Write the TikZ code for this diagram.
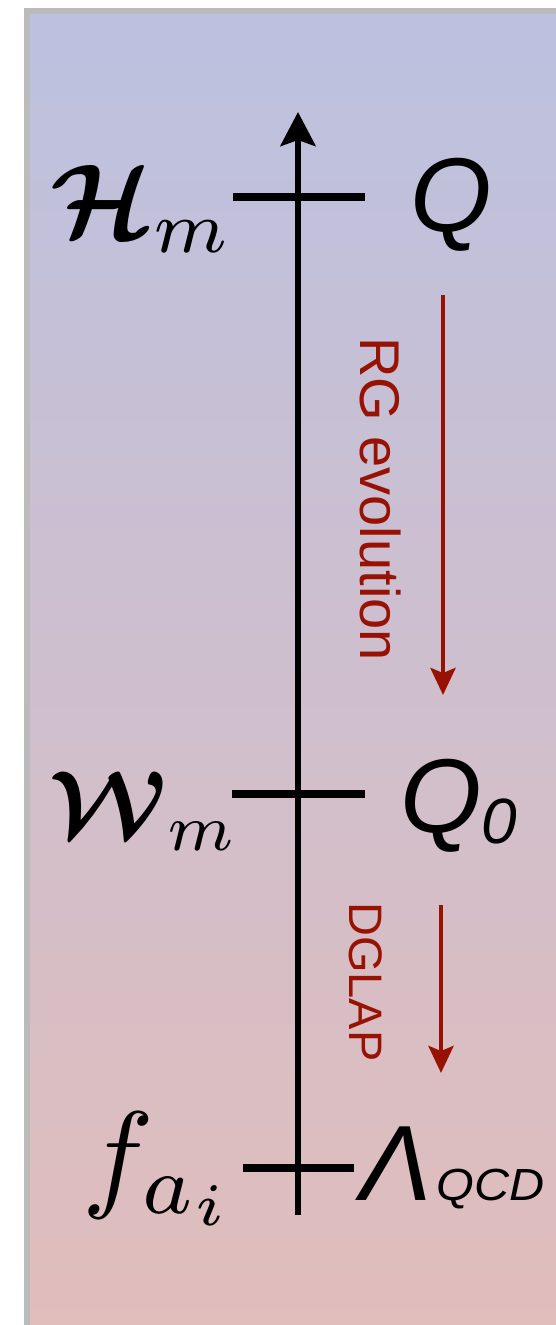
\documentclass[tikz,border=0pt]{standalone}
\usepackage{amsmath,bm}
\usepackage{fontspec}
\newfontfamily\arialf{Liberation Sans}
\usetikzlibrary{arrows.meta}
\definecolor{topc}{RGB}{188,193,224}
\definecolor{botc}{RGB}{225,189,187}
\definecolor{framec}{RGB}{187,187,187}
\definecolor{rgred}{RGB}{152,18,4}
\tikzset{
  axisline/.style={line width=6.5pt, -{Stealth[length=34pt,width=35pt,inset=6pt]}},
  tickline/.style={line width=7.5pt},
  flowarrow/.style={rgred, line width=4.5pt, -{Stealth[length=27pt,width=25pt,inset=5pt]}},
  flowtext/.style={rgred, rotate=-90, anchor=base west, inner sep=0pt, font=\arialf},
  mathlabel/.style={anchor=base west, inner sep=0pt},
}
\begin{document}
\begin{tikzpicture}[x=1pt,y=-1pt]
\useasboundingbox (0,0) rectangle (556,1325);
\fill[framec] (24,8) rectangle (556,1325);
\shade[top color=topc, bottom color=botc] (30,14) rectangle (556,1325);
% axis
\coordinate (axb) at (298,1215);
\coordinate (axt) at (298,112);
\draw[axisline] (axb) -- (axt);
% ticks
\coordinate (t1l) at (233,197); \coordinate (t1r) at (365,197);
\coordinate (t2l) at (232,794); \coordinate (t2r) at (365,794);
\coordinate (t3l) at (243,1168); \coordinate (t3r) at (354,1168);
\draw[tickline] (t1l) -- (t1r);
\draw[tickline] (t2l) -- (t2r);
\draw[tickline] (t3l) -- (t3r);
% left labels
\node[mathlabel, scale=10.5] (H) at (48,237) {$\boldsymbol{\mathcal H}_m$};
\node[mathlabel, scale=9.4] (W) at (48,836) {$\boldsymbol{\mathcal W}_m$};
\node[mathlabel, scale=12] (f) at (80,1195) {$f_{a_i}$};
% right labels
\node[mathlabel] (Q) at (410,231) {\fontsize{105}{105}\selectfont\arialf\itshape Q};
\node[mathlabel] (Q0) at (400,832) {\fontsize{105}{105}\selectfont\arialf\itshape Q\raisebox{-11pt}{\fontsize{64}{64}\selectfont 0}};
\node[mathlabel] (L) at (360,1200) {\fontsize{107}{107}\selectfont\arialf\itshape Λ\hspace{5pt}\scalebox{1.08}[1]{\fontsize{45}{45}\selectfont QCD}};
% flows
\coordinate (a1s) at (443,295); \coordinate (a1e) at (443,695);
\coordinate (a2s) at (441,905); \coordinate (a2e) at (441,1073);
\draw[flowarrow] (a1s) -- (a1e);
\draw[flowarrow] (a2s) -- (a2e);
\node[flowtext] (rg) at (360,337) {\fontsize{56}{56}\selectfont RG evolution};
\node[flowtext] (dg) at (349,902) {\fontsize{47}{47}\selectfont DGLAP};
\end{tikzpicture}
\end{document}
